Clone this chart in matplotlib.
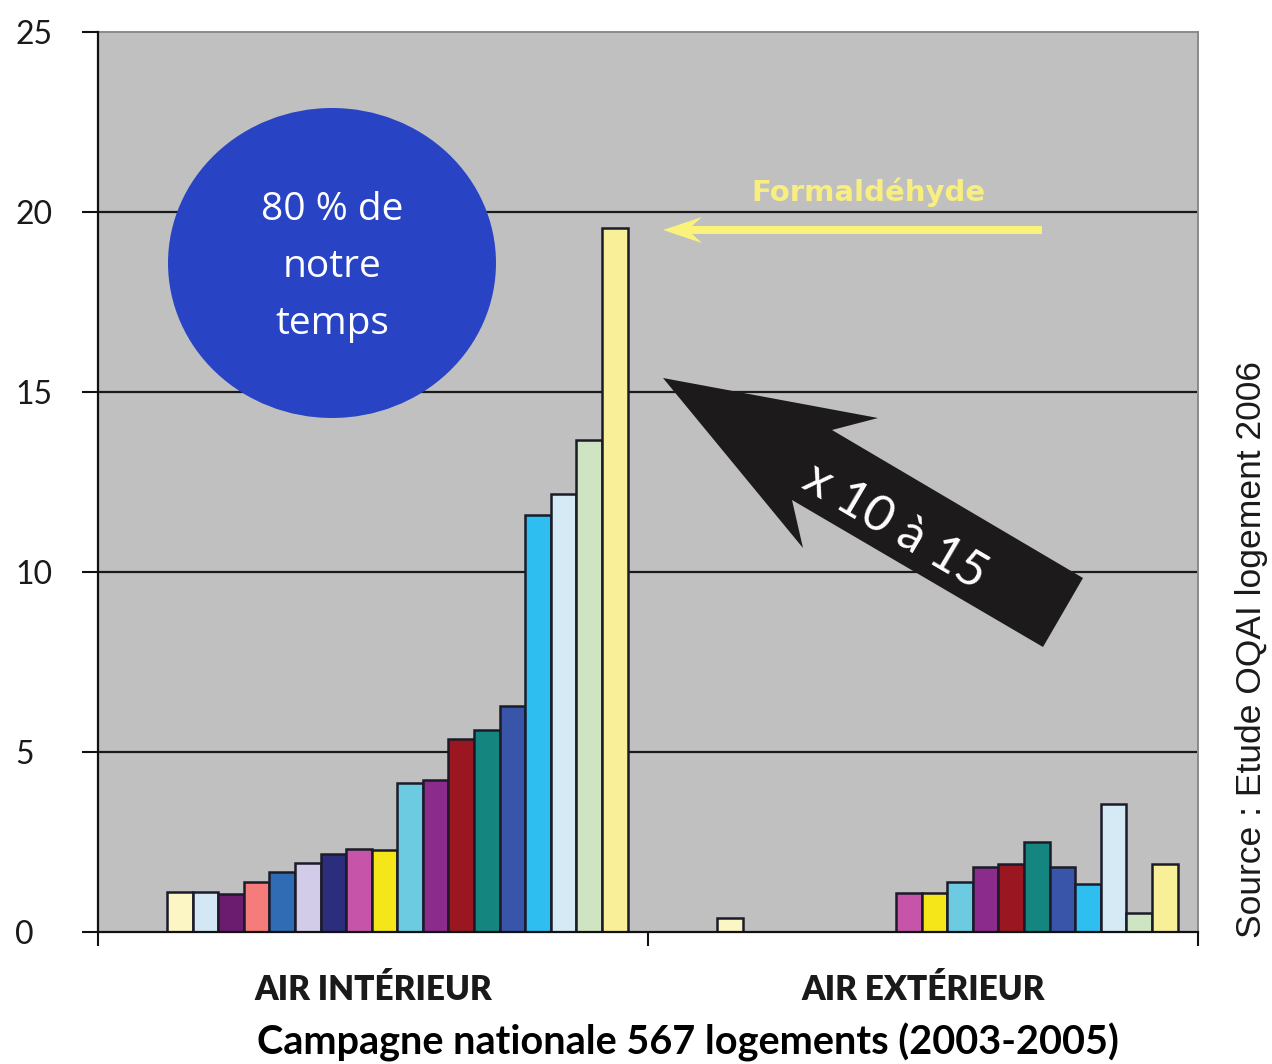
import matplotlib
matplotlib.use("Agg")
import matplotlib.pyplot as plt
from matplotlib.patches import Ellipse, Polygon
import numpy as np

# concentrations (µg/m3) per pollutant, same pollutant order in both groups
colors = ['#fbf6c4', '#d3e7f4', '#6b1c6f', '#f47c7a', '#2f6cb4', '#d2cce8',
          '#2c2d7c', '#c654a8', '#f4e619', '#6ccbe1', '#8b2b8b', '#9a1620',
          '#14857f', '#3955a9', '#2ebff0', '#d6eaf6', '#cfe4c2', '#f9ef98']
interieur = [1.1, 1.1, 1.05, 1.4, 1.67, 1.93, 2.16, 2.3, 2.28, 4.13, 4.22,
             5.35, 5.61, 6.28, 11.58, 12.17, 13.67, 19.56]
exterieur = [0.4, np.nan, np.nan, np.nan, np.nan, np.nan, np.nan, 1.07, 1.07,
             1.4, 1.8, 1.9, 2.49, 1.8, 1.33, 3.56, 0.52, 1.9]
groupes = ['AIR INTÉRIEUR', 'AIR EXTÉRIEUR']
yticks = [0, 5, 10, 15, 20, 25]

W, H = 1272, 1064
fig = plt.figure(figsize=(W / 100, H / 100), dpi=100)
fig.patch.set_facecolor('white')
ax = fig.add_axes([98 / W, 1 - 932 / H, 1100 / W, 900 / H])
ax.set_facecolor('#c0c0c0')

def px(x, y):
    # figure pixel (top-left origin) -> figure fraction
    return (x / W, 1 - y / H)

group_w = 21.5
start = 3.2
idx = np.arange(len(colors))
for g, vals in enumerate([interieur, exterieur]):
    vals = np.array(vals, dtype=float)
    ok = ~np.isnan(vals)
    ax.bar(start + g * group_w + idx[ok], vals[ok], width=1.0,
           color=np.array(colors)[ok], edgecolor='#1b1b2a', linewidth=1.8,
           zorder=3)

ax.set_xlim(0, 2 * group_w)
ax.set_ylim(0, 25)
ax.set_yticks(yticks)
ax.set_yticklabels([str(v) for v in yticks], fontsize=23, family='Lato',
                   color='#1a1a1a')
for lab in ax.get_yticklabels():
    lab.set_horizontalalignment('left')
ax.tick_params(axis='y', length=11.5, width=1.5, pad=48, color='#111111')
ax.set_xticks([0, group_w, 2 * group_w])
ax.set_xticklabels([])
ax.tick_params(axis='x', length=10, width=1.5, color='#111111')

ax.grid(axis='y', color='#1a1a1a', linewidth=1.6, zorder=1)
ax.set_axisbelow(True)
gl = ax.get_ygridlines()
gl[0].set_visible(False)
gl[-1].set_visible(False)
for s in ['left', 'bottom']:
    ax.spines[s].set_color('#111111')
    ax.spines[s].set_linewidth(1.6)
    ax.spines[s].set_zorder(4)
for s in ['top', 'right']:
    ax.spines[s].set_color('#8a8a8a')
    ax.spines[s].set_linewidth(1.4)

for g, name in enumerate(groupes):
    ax.text((g + 0.5) * group_w, -1.6, name, ha='center', va='center',
            fontsize=24, fontweight='heavy', family='Lato', color='#1a1a1a')

# blue disc
disc = Ellipse(px(332, 263), 328 / W, 310 / H, transform=fig.transFigure,
               facecolor='#2844c4', edgecolor='none', zorder=6)
ax.add_artist(disc)
disc.set_clip_on(False)
fig.text(*px(332, 267), '80 % de\nnotre\ntemps', ha='center', va='center',
         fontsize=28, family='Open Sans', color='white', linespacing=1.64,
         zorder=7)

# yellow arrow
yarrow = Polygon([px(663, 230), px(702, 217), px(692, 226), px(1042, 226),
                  px(1042, 234), px(692, 234), px(702, 243)],
                 closed=True, transform=fig.transFigure, facecolor='#fbf27c',
                 edgecolor='none', zorder=6, clip_on=False)
ax.add_artist(yarrow)
fig.text(*px(868, 192), 'Formaldéhyde', ha='center', va='center',
         fontsize=21, fontweight='bold', color='#f9ef80', zorder=7)

# black arrow
barrow = Polygon([px(663, 378), px(878, 418), px(832, 430), px(1083, 578),
                  px(1043, 647), px(792, 500), px(803, 548)],
                 closed=True, transform=fig.transFigure, facecolor='#1c1a1a',
                 edgecolor='none', zorder=6, clip_on=False)
ax.add_artist(barrow)
fig.text(*px(895, 527), 'x 10 à 15', ha='center', va='center', rotation=-30.5,
         rotation_mode='anchor', fontsize=36, family='Lato', color='white',
         zorder=7)

fig.text(*px(1252, 650), 'Source : Etude OQAI logement 2006', rotation=90,
         ha='center', va='center', fontsize=25.5, family='Liberation Sans',
         color='#1a1a1a')
fig.text(*px(688, 1042), 'Campagne nationale 567 logements (2003-2005)',
         ha='center', va='center', fontsize=28.5, fontweight='bold',
         family='Lato', color='black')

fig.savefig('out.png', dpi=100)
